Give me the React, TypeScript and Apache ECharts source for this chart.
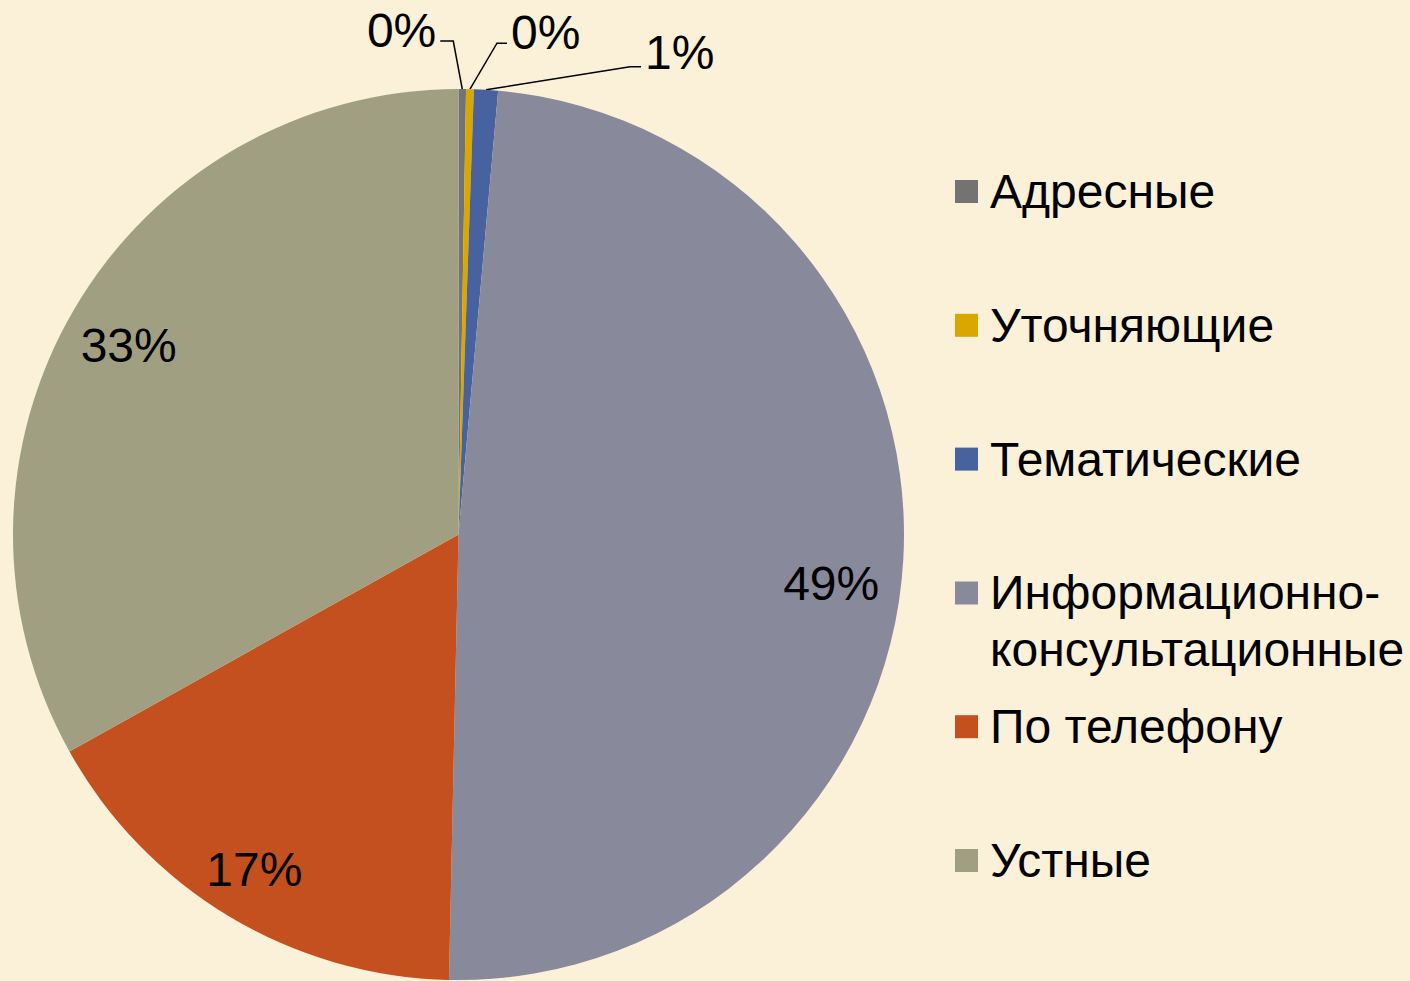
import React, { useEffect, useRef } from 'react';
import * as echarts from 'echarts';

const categories = [
  'Адресные',
  'Уточняющие',
  'Тематические',
  'Информационно-консультационные',
  'По телефону',
  'Устные',
];
const shares = [0.27, 0.28, 0.87, 48.92, 16.56, 33.1];
const colors = ['#737373', '#D8A800', '#4862A0', '#888A9B', '#C4501F', '#A19F81'];

const FONT = '"Liberation Sans", Arial, "DejaVu Sans", sans-serif';

export default function App() {
  const ref = useRef<HTMLDivElement>(null);
  useEffect(() => {
    document.body.style.margin = '0';
    const chart = echarts.init(ref.current!, null, { renderer: 'svg' });
    const cx = 458.5;
    const cy = 534.5;
    const R = 445.5;
    const guides: Record<number, { bend: number[]; tail: number; lift: number }> = {
      0: { bend: [-9, -48], tail: -13, lift: 11 },
      1: { bend: [27, -46], tail: 10, lift: 11 },
      2: { bend: [144, -23], tail: 11, lift: 14 },
    };
    const insideScale = 1.72;
    const insideShift: Record<number, number[]> = { 3: [-15, 28], 4: [-4, 2], 5: [5, 8] };
    const LH = 57;
    const STEP = 133.8;
    const firstTop = 163;

    const legendBase = {
      orient: 'vertical',
      left: 955,
      padding: 0,
      itemGap: STEP - LH,
      itemWidth: 23,
      itemHeight: 23,
      icon: 'rect',
      selectedMode: false,
      textStyle: {
        fontSize: 48,
        lineHeight: LH,
        color: '#000',
        fontFamily: FONT,
        padding: [0, 0, 0, 7],
      },
    };
    const twoLine = categories.filter((n) => n.includes('-'));
    const before = categories.slice(0, categories.indexOf(twoLine[0]));
    const after = categories.slice(categories.indexOf(twoLine[0]) + 1);

    chart.setOption({
      animation: false,
      backgroundColor: '#FBF0D8',
      legend: [
        { ...legendBase, top: firstTop, data: before },
        {
          ...legendBase,
          top: firstTop + STEP * before.length + 28.5 - 17 - 11.5 + 0,
          itemHeight: 80,
          formatter: (n: string) => n.replace('-', '-\n'),
          data: twoLine.map((n) => ({
            name: n,
            icon: 'path://M0,0h23v23h-23zM0,79.95h0.05v0.05h-0.05z',
          })),
        },
        { ...legendBase, top: firstTop + STEP * (before.length + 1), data: after },
      ],
      series: [
        {
          type: 'pie',
          center: [cx, cy],
          radius: [0, R],
          startAngle: 90,
          clockwise: true,
          avoidLabelOverlap: false,
          emphasis: { disabled: true },
          label: {
            show: true,
            fontSize: 48,
            color: '#000',
            fontFamily: FONT,
            formatter: (p: any) => Math.round(p.percent) + '%',
          },
          labelLine: { lineStyle: { color: '#000', width: 1.5 } },
          labelLayout: (p: any) => {
            const i = p.dataIndex;
            if (i <= 2) {
              const s = p.labelLinePoints
                ? [p.labelLinePoints[0][0], p.labelLinePoints[0][1]]
                : [p.rect.x + p.rect.width / 2, p.rect.y];
              const g = guides[i];
              const mid = [s[0] + g.bend[0], s[1] + g.bend[1]];
              const end = [mid[0] + g.tail, mid[1]];
              const leftSide = g.tail < 0;
              return {
                x: end[0] + (leftSide ? -4 : 4),
                y: end[1] - g.lift,
                align: leftSide ? 'right' : 'left',
                verticalAlign: 'middle',
                labelLinePoints: [s, mid, end],
              };
            }
            const lr = p.labelRect;
            const lx = lr.x + lr.width / 2;
            const ly = lr.y + lr.height / 2;
            const sh = insideShift[i] || [0, 0];
            return {
              x: cx + (lx - cx) * insideScale + sh[0],
              y: cy + (ly - cy) * insideScale + sh[1],
              align: 'center',
              verticalAlign: 'middle',
            };
          },
          data: categories.map((name, i) => ({
            name,
            value: shares[i],
            itemStyle: { color: colors[i] },
            label: { position: i <= 2 ? 'outside' : 'inside' },
            labelLine: { show: i <= 2 },
          })),
        },
      ],
    });
    return () => chart.dispose();
  }, []);
  return <div ref={ref} style={{ width: 1410, height: 981 }} />;
}
